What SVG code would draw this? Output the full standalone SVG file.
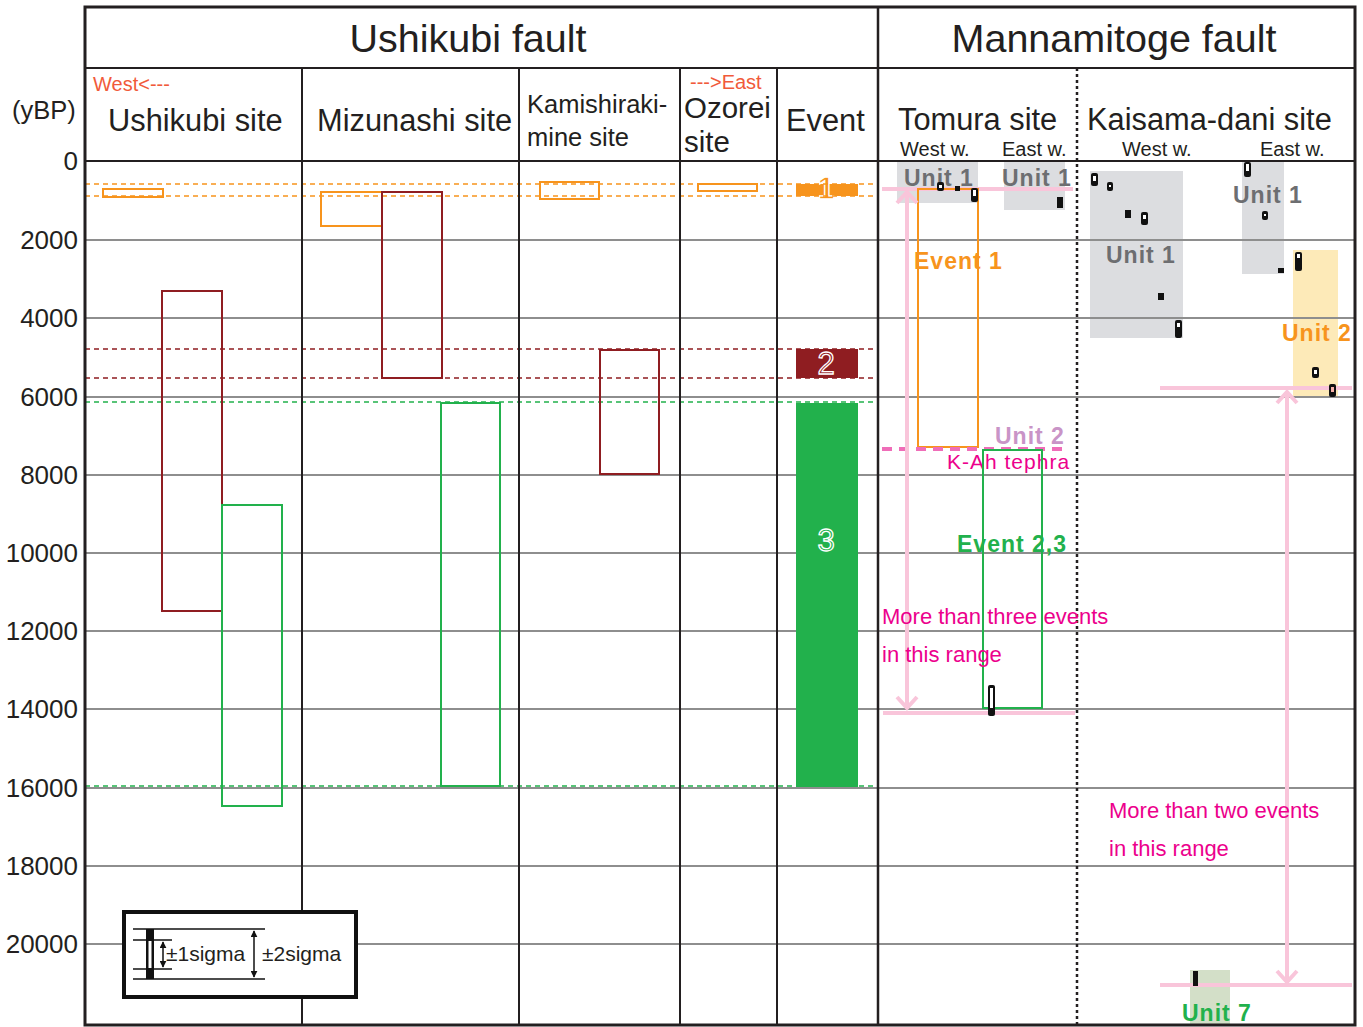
<svg xmlns="http://www.w3.org/2000/svg" width="1363" height="1027" viewBox="0 0 1363 1027">
<defs>
<style>
text{font-family:"Liberation Sans",Arial,sans-serif;}
.grid{stroke:#8e8e8e;stroke-width:2;}
.vl{stroke:#231f20;stroke-width:2;}
.hd{font-size:30.8px;fill:#231f20;}
.ax{font-size:26px;fill:#231f20;text-anchor:end;}
.sub{font-size:20px;fill:#231f20;}
.dir{font-size:20px;fill:#f15a3a;}
.or{fill:none;stroke:#f7941d;stroke-width:2;}
.rd{fill:none;stroke:#8f1d21;stroke-width:2;}
.gr{fill:none;stroke:#22b14c;stroke-width:2;}
.dor{stroke:#f7941d;stroke-width:1.5;stroke-dasharray:5,4;}
.drd{stroke:#8f1d21;stroke-width:1.5;stroke-dasharray:5,4;}
.dgr{stroke:#22b14c;stroke-width:1.5;stroke-dasharray:5,4;}
.gfill{fill:#dcdde0;}
.unit{font-size:23px;font-weight:bold;letter-spacing:1px;}
.pink{stroke:#f9c5da;stroke-width:4;fill:none;}
.pk{font-size:22px;fill:#ec008c;}
.num{font-size:31px;stroke:#fff;stroke-width:1.3;text-anchor:middle;}
.smp{fill:#111;}
.smw{fill:#fff;}
</style>
<marker id="ah" viewBox="0 0 10 10" refX="9" refY="5" markerWidth="7" markerHeight="7" orient="auto-start-reverse" markerUnits="userSpaceOnUse">
<path d="M0,0 L10,5 L0,10 z" fill="#111"/>
</marker>
</defs>

<rect x="0" y="0" width="1363" height="1027" fill="#fff"/>

<!-- background fills -->
<g id="fills">
<rect class="gfill" x="897" y="162" width="81" height="41"/>
<rect class="gfill" x="1004" y="162" width="61" height="48"/>
<rect class="gfill" x="1090" y="171" width="93" height="167"/>
<rect class="gfill" x="1242" y="162" width="42" height="112"/>
<rect x="1293" y="250" width="45" height="147" fill="#fdeab8"/>
<rect x="1190" y="970" width="40" height="55" fill="#d3dfc8"/>
</g>

<!-- grid -->
<g id="grid">
<line class="grid" x1="85" y1="240" x2="1355" y2="240"/>
<line class="grid" x1="85" y1="318" x2="1355" y2="318"/>
<line class="grid" x1="85" y1="397" x2="1355" y2="397"/>
<line class="grid" x1="85" y1="475" x2="1355" y2="475"/>
<line class="grid" x1="85" y1="553" x2="1355" y2="553"/>
<line class="grid" x1="85" y1="631" x2="1355" y2="631"/>
<line class="grid" x1="85" y1="709" x2="1355" y2="709"/>
<line class="grid" x1="85" y1="788" x2="1355" y2="788"/>
<line class="grid" x1="85" y1="866" x2="1355" y2="866"/>
<line class="grid" x1="85" y1="944" x2="1355" y2="944"/>
</g>

<!-- event fills -->
<g id="events">
<rect x="796" y="184" width="62" height="12" fill="#f7941d"/>
<rect x="796" y="349" width="62" height="29" fill="#8f1d21"/>
<rect x="796" y="403" width="62" height="384" fill="#22b14c"/>
<text class="num" x="826" y="199" fill="#f7941d" font-weight="bold">1</text>
<text class="num" x="826" y="374" fill="#8f1d21">2</text>
<text class="num" x="826" y="551" fill="#22b14c">3</text>
</g>

<!-- dashed event lines -->
<g id="eventlines">
<line class="dor" x1="85" y1="184" x2="878" y2="184"/>
<line class="dor" x1="85" y1="196" x2="878" y2="196"/>
<line class="drd" x1="85" y1="349" x2="878" y2="349"/>
<line class="drd" x1="85" y1="378" x2="878" y2="378"/>
<line class="dgr" x1="85" y1="402" x2="878" y2="402"/>
<line class="dgr" x1="85" y1="786" x2="878" y2="786"/>
</g>

<!-- frame -->
<g id="frame">
<rect x="85" y="7" width="1270" height="1018" fill="none" stroke="#231f20" stroke-width="3"/>
<line class="vl" x1="85" y1="68" x2="1355" y2="68"/>
<line class="vl" x1="85" y1="161" x2="1355" y2="161"/>
<line class="vl" x1="302" y1="68" x2="302" y2="1025"/>
<line class="vl" x1="519" y1="68" x2="519" y2="1025"/>
<line class="vl" x1="680" y1="68" x2="680" y2="1025"/>
<line class="vl" x1="777" y1="68" x2="777" y2="1025"/>
<line x1="878" y1="7" x2="878" y2="1025" stroke="#231f20" stroke-width="2.5"/>
<line x1="1077" y1="68" x2="1077" y2="1025" stroke="#231f20" stroke-width="2.5" stroke-dasharray="3,3"/>
</g>

<!-- headers -->
<g id="headers">
<text x="468" y="52" font-size="39.5" fill="#231f20" text-anchor="middle">Ushikubi fault</text>
<text x="1114" y="52" font-size="39.5" fill="#231f20" text-anchor="middle">Mannamitoge fault</text>
<text class="dir" x="93" y="91">West&lt;---</text>
<text class="dir" x="690" y="89">---&gt;East</text>
<text x="12" y="119" font-size="25.5" fill="#231f20">(yBP)</text>
<text class="hd" x="108" y="131">Ushikubi site</text>
<text class="hd" x="317" y="131">Mizunashi site</text>
<text x="527" y="113" font-size="25.5" fill="#231f20">Kamishiraki-</text>
<text x="527" y="146" font-size="25.5" fill="#231f20">mine site</text>
<text x="684" y="118" font-size="29.5" fill="#231f20">Ozorei</text>
<text x="684" y="152" font-size="29.5" fill="#231f20">site</text>
<text class="hd" x="786" y="131">Event</text>
<text class="hd" x="898" y="130">Tomura site</text>
<text class="hd" x="1087" y="130">Kaisama-dani site</text>
<text class="sub" x="900" y="156">West w.</text>
<text class="sub" x="1002" y="156">East w.</text>
<text class="sub" x="1122" y="156">West w.</text>
<text class="sub" x="1260" y="156">East w.</text>
</g>

<!-- axis -->
<g id="axis">
<text class="ax" x="78" y="170">0</text>
<text class="ax" x="78" y="249">2000</text>
<text class="ax" x="78" y="327">4000</text>
<text class="ax" x="78" y="406">6000</text>
<text class="ax" x="78" y="484">8000</text>
<text class="ax" x="78" y="562">10000</text>
<text class="ax" x="78" y="640">12000</text>
<text class="ax" x="78" y="718">14000</text>
<text class="ax" x="78" y="797">16000</text>
<text class="ax" x="78" y="875">18000</text>
<text class="ax" x="78" y="953">20000</text>
</g>

<!-- site boxes -->
<g id="ushikubi-site">
<rect class="or" x="103" y="189" width="60" height="8"/>
<rect class="rd" x="162" y="291" width="60" height="320"/>
<rect class="gr" x="222" y="505" width="60" height="301"/>
</g>
<g id="mizunashi-site">
<rect class="or" x="321" y="192" width="61" height="34"/>
<rect class="rd" x="382" y="192" width="60" height="186"/>
<rect class="gr" x="441" y="403" width="59" height="383"/>
</g>
<g id="kamishiraki-site">
<rect class="or" x="540" y="182" width="59" height="17"/>
<rect class="rd" x="600" y="350" width="59" height="124"/>
</g>
<g id="ozorei-site">
<rect class="or" x="698" y="184" width="59" height="7"/>
</g>

<!-- Tomura site -->
<g id="tomura-site">
<text class="unit" x="904" y="186" fill="#6d6e71">Unit 1</text>
<text class="unit" x="1002" y="186" fill="#6d6e71">Unit 1</text>
<line class="pink" x1="882" y1="189" x2="1073" y2="189"/>
<rect class="or" x="918" y="189" width="60" height="258"/>
<line x1="882" y1="449" x2="1068" y2="449" stroke="#ef6db8" stroke-width="4" stroke-dasharray="10,7"/>
<text class="unit" x="995" y="444" fill="#c994c7">Unit 2</text>
<text x="947" y="469" font-size="21" letter-spacing="1" fill="#ec008c" font-family="DejaVu Sans, sans-serif">K-Ah tephra</text>
<rect class="gr" x="983" y="450" width="59" height="258"/>
<text class="unit" x="914" y="269" fill="#f7941d">Event 1</text>
<text class="unit" x="957" y="552" fill="#22b14c" letter-spacing="1.3">Event 2,3</text>
<line class="pink" x1="907" y1="192" x2="907" y2="707" stroke-width="3"/>
<path class="pink" d="M897,203 L907,192 L917,203" stroke-width="3"/>
<path class="pink" d="M897,697 L907,708 L917,697" stroke-width="3"/>
<line class="pink" x1="883" y1="713" x2="1075" y2="713"/>
<text class="pk" x="882" y="624">More than three events</text>
<text class="pk" x="882" y="662">in this range</text>
</g>

<!-- Kaisama-dani site -->
<g id="kaisama-site">
<text class="unit" x="1106" y="263" fill="#6d6e71">Unit 1</text>
<text class="unit" x="1233" y="203" fill="#6d6e71">Unit 1</text>
<text class="unit" x="1282" y="341" fill="#f7941d">Unit 2</text>
<line class="pink" x1="1160" y1="388" x2="1352" y2="388"/>
<line class="pink" x1="1287" y1="392" x2="1287" y2="981" stroke-width="3"/>
<path class="pink" d="M1277,403 L1287,392 L1297,403" stroke-width="3"/>
<path class="pink" d="M1277,971 L1287,982 L1297,971" stroke-width="3"/>
<line class="pink" x1="1160" y1="985" x2="1352" y2="985"/>
<text class="unit" x="1182" y="1021" fill="#22b14c">Unit 7</text>
<text class="pk" x="1109" y="818">More than two events</text>
<text class="pk" x="1109" y="856">in this range</text>
</g>

<!-- samples -->
<g id="samples">
<rect class="smp" x="937" y="182" width="7" height="9" rx="2"/><rect class="smw" x="939" y="185" width="3" height="3"/>
<rect class="smp" x="955" y="186" width="5" height="5"/>
<rect class="smp" x="971" y="188" width="7" height="14" rx="2"/><rect class="smw" x="973" y="190" width="3" height="6"/>
<path class="smp" d="M1057,197 L1063,197 L1063,208 L1057,208 z"/>
<rect class="smp" x="988" y="685" width="7" height="31" rx="2"/><rect class="smw" x="990" y="688" width="3" height="20"/>
<rect class="smp" x="1091" y="173" width="7" height="13" rx="2"/><rect class="smw" x="1093" y="176" width="3" height="5"/>
<rect class="smp" x="1107" y="182" width="6" height="9" rx="2"/><rect class="smw" x="1109" y="185" width="2" height="2"/>
<rect class="smp" x="1125" y="210" width="6" height="8"/>
<rect class="smp" x="1141" y="212" width="7" height="13" rx="2"/><rect class="smw" x="1143" y="215" width="3" height="4"/>
<rect class="smp" x="1158" y="293" width="6" height="7"/>
<rect class="smp" x="1175" y="320" width="7" height="18" rx="2"/><rect class="smw" x="1177" y="323" width="3" height="4"/>
<rect class="smp" x="1244" y="162" width="7" height="15" rx="2"/><rect class="smw" x="1246" y="164" width="3" height="7"/>
<rect class="smp" x="1262" y="211" width="6" height="9" rx="2"/><rect class="smw" x="1264" y="214" width="2" height="2"/>
<rect class="smp" x="1278" y="268" width="6" height="5"/>
<rect class="smp" x="1295" y="252" width="7" height="19" rx="2"/><rect class="smw" x="1297" y="254" width="3" height="4"/>
<rect class="smp" x="1312" y="367" width="7" height="11" rx="2"/><rect class="smw" x="1314" y="370" width="3" height="4"/>
<rect class="smp" x="1329" y="384" width="7" height="13" rx="2"/><rect x="1331" y="387" width="3" height="5" fill="#f7b0a8"/>
<rect class="smp" x="1193" y="971" width="5" height="15"/>
</g>

<!-- legend -->
<g id="legend">
<rect x="124" y="912" width="232" height="85" fill="#fff" stroke="#111" stroke-width="4"/>
<line x1="133" y1="929" x2="265" y2="929" stroke="#111" stroke-width="1.5"/>
<line x1="133" y1="979" x2="265" y2="979" stroke="#111" stroke-width="1.5"/>
<line x1="133" y1="940" x2="172" y2="940" stroke="#111" stroke-width="1.5"/>
<line x1="133" y1="969" x2="172" y2="969" stroke="#111" stroke-width="1.5"/>
<rect x="146" y="929" width="8" height="50" fill="#111"/>
<rect x="148.5" y="941" width="3" height="27" fill="#fff"/>
<line x1="163" y1="942" x2="163" y2="967" stroke="#111" stroke-width="1.5" marker-start="url(#ah)" marker-end="url(#ah)"/>
<line x1="254" y1="931" x2="254" y2="977" stroke="#111" stroke-width="1.5" marker-start="url(#ah)" marker-end="url(#ah)"/>
<text x="166" y="961" font-size="21" fill="#231f20">±1sigma</text>
<text x="262" y="961" font-size="21" fill="#231f20">±2sigma</text>
</g>
</svg>
